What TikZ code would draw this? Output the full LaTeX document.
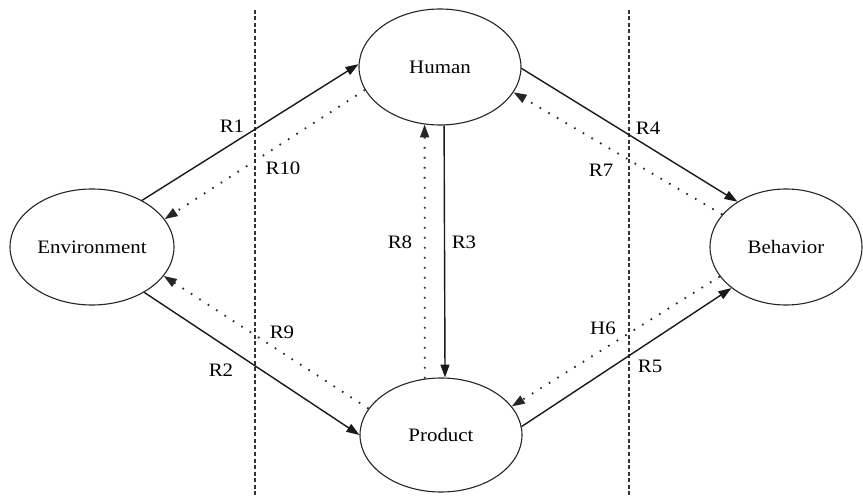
\documentclass[tikz,border=0pt]{standalone}
\usepackage{fontspec}
\setmainfont[FakeStretch=1.1]{Liberation Serif}
\usetikzlibrary{shapes.geometric,arrows.meta}
\begin{document}
\begin{tikzpicture}[x=1pt,y=-1pt,
  ent/.style={draw=black!85,line width=1.1pt,ellipse,inner sep=0pt,
    font=\fontsize{19}{22}\selectfont},
  lbl/.style={inner sep=0pt,font=\fontsize{19}{22}\selectfont},
  solidarr/.style={line width=1.4pt,draw=black!90,-{Triangle[length=13pt,width=9pt]}},
  dotarr/.style={line width=1.8pt,draw=black!85,dash pattern=on 1.6pt off 8.4pt,
    -{Triangle[length=13pt,width=9pt]}},
  sep/.style={line width=1.3pt,draw=black!80,dash pattern=on 4pt off 2.5pt}]
\useasboundingbox (0,0) rectangle (863,497);
\fill[white] (0,0) rectangle (863,497);
% separators
\coordinate (d1t) at (255,10);
\coordinate (d1b) at (255,497);
\coordinate (d2t) at (629,10);
\coordinate (d2b) at (629,497);
\draw[sep] (d1t) -- (d1b);
\draw[sep] (d2t) -- (d2b);
% nodes
\node[ent,minimum width=164pt,minimum height=116pt] (env) at (92,247) {Environment};
\node[ent,minimum width=162pt,minimum height=116pt] (hum) at (440,67) {Human};
\node[ent,minimum width=152pt,minimum height=116pt] (beh) at (786,247) {Behavior};
\node[ent,minimum width=162pt,minimum height=114pt] (prod) at (441,435) {Product};
% connectors
\draw[solidarr] (env.43) -- (hum.178);
\draw[dotarr] (hum.197) -- (env.21);
\draw[solidarr] (hum.-1) -- (beh.137);
\draw[dotarr] (beh.153) -- (hum.-19);
\draw[solidarr] (hum.-86) -- (prod.86);
\draw[dotarr] (prod.106) -- (hum.-105);
\draw[solidarr] (env.-41) -- (prod.180);
\draw[dotarr] (prod.160) -- (env.-22);
\draw[solidarr] (prod.6) -- (beh.217);
\draw[dotarr] (beh.204) -- (prod.22);
% labels
\node[lbl] (lR1) at (232,126) {R1};
\node[lbl] (lR10) at (283,168) {R10};
\node[lbl] (lR4) at (648,128) {R4};
\node[lbl] (lR7) at (601,170) {R7};
\node[lbl] (lR3) at (464,242) {R3};
\node[lbl] (lR8) at (400,242) {R8};
\node[lbl] (lR9) at (282,332) {R9};
\node[lbl] (lR2) at (221,370) {R2};
\node[lbl] (lH6) at (603,328) {H6};
\node[lbl] (lR5) at (650,366) {R5};
\end{tikzpicture}
\end{document}
